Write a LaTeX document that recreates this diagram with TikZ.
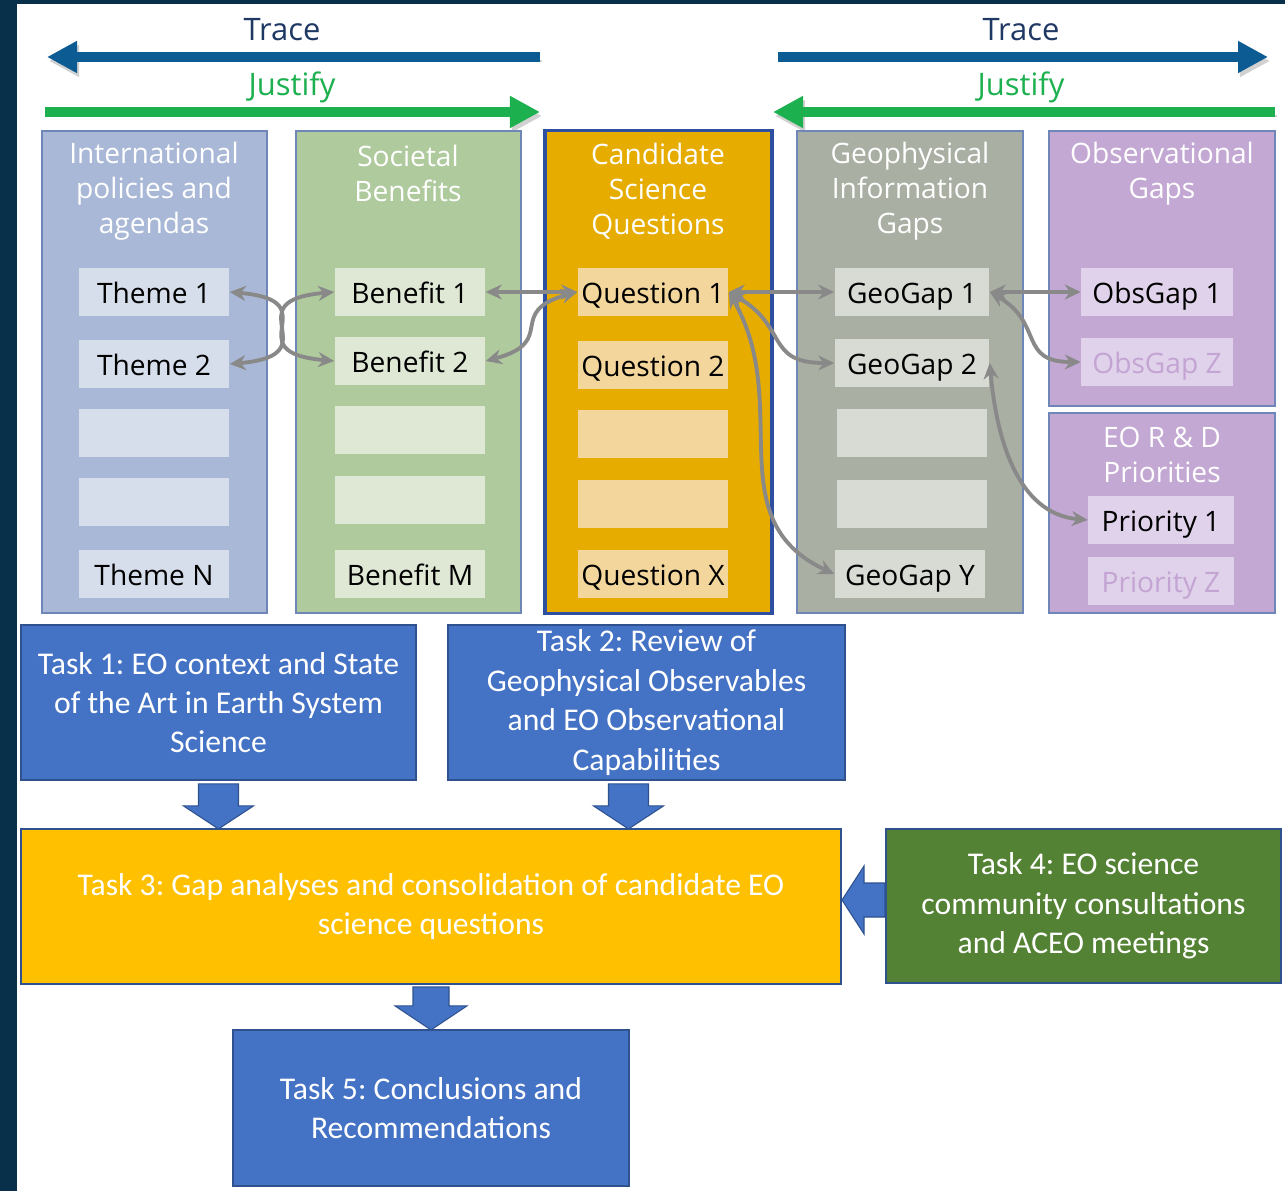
\documentclass[tikz,border=0pt]{standalone}
\usepackage{fontspec}
\setmainfont{Open Sans}
\newfontfamily\taskfont{Carlito}
\usetikzlibrary{arrows.meta, calc}
\frenchspacing

\definecolor{navybg}{HTML}{08304A}
\definecolor{traceblue}{HTML}{0C5B92}
\definecolor{tracetext}{HTML}{1F3864}
\definecolor{justgreen}{HTML}{1CB04F}
\definecolor{colline}{HTML}{6F86B8}
\definecolor{candline}{HTML}{2F4FA0}
\definecolor{intlfill}{HTML}{A9B8D6}
\definecolor{intlitem}{HTML}{D6DEEB}
\definecolor{socfill}{HTML}{AFCA9D}
\definecolor{socitem}{HTML}{DEE8D5}
\definecolor{candfill}{HTML}{E6AC00}
\definecolor{canditem}{HTML}{F3D69B}
\definecolor{geofill}{HTML}{AAAFA4}
\definecolor{geoitem}{HTML}{D7DBD4}
\definecolor{obsfill}{HTML}{C4A8D4}
\definecolor{obsitem}{HTML}{DFD2EA}
\definecolor{obsghost}{HTML}{C3A4D3}
\definecolor{linkgray}{HTML}{898989}
\definecolor{taskblue}{HTML}{4472C4}
\definecolor{taskline}{HTML}{2F528F}
\definecolor{taskyellow}{HTML}{FFC000}
\definecolor{taskgreen}{HTML}{548235}

\newcommand{\colfont}{\fontsize{8}{9.9}\selectfont}

\begin{document}
\begin{tikzpicture}[
  x=0.01cm, y=0.01cm,
  every node/.style={font=\colfont},
  col/.style={
    rectangle, draw=colline, line width=0.5pt, fill=#1,
    minimum width=2.25cm, minimum height=4.82cm, inner sep=0pt},
  coltitle/.style={text=white, align=center},
  item/.style={
    rectangle, fill=#1, text=black,
    minimum width=1.5cm, minimum height=0.47cm, inner sep=0pt,
    text height=1.45ex, text depth=0.25ex},
  link/.style={
    {Stealth[length=1.6mm,width=1.5mm]}-{Stealth[length=1.6mm,width=1.5mm]},
    draw=linkgray, line width=1.1pt},
  tracearr/.style={
    -{Triangle[length=3mm,width=3mm]},
    draw=#1, line width=2.8pt,
    preaction={draw=black!18, transform canvas={shift={(0.02cm,-0.04cm)}}}},
  toplbl/.style={font=\fontsize{8.8}{10}\selectfont},
  task/.style={
    rectangle, draw=taskline, line width=0.5pt, fill=#1,
    text=white, align=center, inner sep=0pt,
    font=\taskfont\fontsize{9}{11.2}\selectfont},
  blockarr/.style={fill=taskblue, draw=taskline, line width=0.3pt},
]

% frame
\fill[navybg] (0,0) rectangle (1285,-1191);
\fill[white] (17,-4) rectangle (1285,-1191);

% trace / justify arrows
\coordinate (traceLa) at (540,-57);
\coordinate (traceLb) at (47,-57);
\coordinate (justLa) at (45,-112);
\coordinate (justLb) at (540,-112);
\coordinate (traceRa) at (778,-57);
\coordinate (traceRb) at (1268,-57);
\coordinate (justRa) at (1275,-112);
\coordinate (justRb) at (773,-112);

\draw[tracearr=traceblue] (traceLa) -- (traceLb);
\draw[tracearr=justgreen] (justLa) -- (justLb);
\draw[tracearr=traceblue] (traceRa) -- (traceRb);
\draw[tracearr=justgreen] (justRa) -- (justRb);

\node[toplbl, text=tracetext] (traceL) at (282,-30) {Trace};
\node[toplbl, text=justgreen] (justL)  at (292,-87) {Justify};
\node[toplbl, text=tracetext] (traceR) at (1021,-30) {Trace};
\node[toplbl, text=justgreen] (justR)  at (1021,-87) {Justify};

% columns
\node[col=intlfill] (intl) at (154.5,-372) {};
\node[col=socfill]  (soc)  at (408.5,-372) {};
\node[col=candfill, draw=candline, line width=0.9pt, minimum width=2.27cm] (cand) at (658.5,-372) {};
\node[col=geofill, minimum width=2.26cm] (geo) at (910,-372) {};
\node[col=obsfill, minimum width=2.26cm, minimum height=2.75cm] (obs) at (1162,-268.5) {};
\node[col=obsfill, minimum width=2.26cm, minimum height=2.0cm] (eord) at (1162,-513) {};

\node[coltitle] (intlT) at (154,-191) {International\\policies and\\agendas};
\node[coltitle] (socT)  at (408,-173.5) {Societal\\Benefits};
\node[coltitle] (candT) at (658,-191) {Candidate\\Science\\Questions};
\node[coltitle] (geoT)  at (910,-191) {Geophysical\\Information\\Gaps};
\node[coltitle] (obsT)  at (1162,-173.5) {Observational\\Gaps};
\node[coltitle] (eordT) at (1162,-455) {EO R \& D\\Priorities};

% items
\node[item=intlitem] (theme1) at (154,-292) {Theme 1};
\node[item=intlitem] (theme2) at (154,-364) {Theme 2};
\node[item=intlitem] (themeA) at (154,-433) {};
\node[item=intlitem] (themeB) at (154,-502) {};
\node[item=intlitem] (themeN) at (154,-574) {Theme N};

\node[item=socitem] (benefit1) at (410,-292) {Benefit 1};
\node[item=socitem] (benefit2) at (410,-361) {Benefit 2};
\node[item=socitem] (benefitA) at (410,-430) {};
\node[item=socitem] (benefitB) at (410,-500) {};
\node[item=socitem] (benefitM) at (410,-574) {Benefit M};

\node[item=canditem] (question1) at (653,-292) {Question 1};
\node[item=canditem] (question2) at (653,-365) {Question 2};
\node[item=canditem] (questionA) at (653,-434) {};
\node[item=canditem] (questionB) at (653,-504) {};
\node[item=canditem] (questionX) at (653,-574) {Question X};

\node[item=geoitem, minimum width=1.54cm] (geogap1) at (912,-292) {GeoGap 1};
\node[item=geoitem, minimum width=1.54cm] (geogap2) at (912,-363) {GeoGap 2};
\node[item=geoitem] (geogapA) at (912,-433) {};
\node[item=geoitem] (geogapB) at (912,-504) {};
\node[item=geoitem] (geogapY) at (910,-574) {GeoGap Y};

\node[item=obsitem, minimum width=1.51cm] (obsgap1) at (1157,-292) {ObsGap 1};
\node[item=obsitem, minimum width=1.51cm, text=obsghost] (obsgapZ) at (1157,-362) {ObsGap Z};
\node[item=obsitem, minimum width=1.45cm] (priority1) at (1161,-520) {Priority 1};
\node[item=obsitem, minimum width=1.45cm, text=obsghost] (priorityZ) at (1161,-581) {Priority Z};

% links
\draw[link] (theme1.east) to[out=-5, in=175, looseness=2.1] (benefit2.west);
\draw[link] (theme2.east) to[out=5, in=185, looseness=2.1] (benefit1.west);
\draw[link] (benefit1.east) -- (question1.west);
\draw[link] (benefit2.east) to[out=15, in=195, looseness=1.7] (question1.west);
\draw[link] (question1.east) -- (geogap1.west);
\draw[link] (question1.east) to[out=-30, in=180, looseness=1.4] (geogap2.west);
\draw[link] (question1.east) to[out=-60, in=155, looseness=1.1] (geogapY.west);
\draw[link] (geogap1.east) -- (obsgap1.west);
\draw[link] (geogap1.east) to[out=-30, in=180, looseness=1.4] (obsgapZ.west);
\draw[link] (geogap2.east) to[out=-85, in=175, looseness=1.0] (priority1.west);

% tasks
\node[task=taskblue, minimum width=3.95cm, minimum height=1.55cm] (task1) at (218.5,-702.5)
  {Task 1: EO context and State\\of the Art in Earth System\\Science};
\node[task=taskblue, minimum width=3.97cm, minimum height=1.55cm] (task2) at (646.5,-702.5)
  {Task 2: Review of\\Geophysical Observables\\and EO Observational\\Capabilities};
\node[task=taskyellow, minimum width=8.2cm, minimum height=1.55cm] (task3) at (431,-906.5)
  {Task 3: Gap analyses and consolidation of candidate EO\\science questions};
\node[task=taskgreen, minimum width=3.95cm, minimum height=1.54cm] (task4) at (1083.5,-906)
  {Task 4: EO science\\community consultations\\and ACEO meetings};
\node[task=taskblue, minimum width=3.96cm, minimum height=1.56cm] (task5) at (431,-1108)
  {Task 5: Conclusions and\\Recommendations};

% block arrows
\draw[blockarr] ($(task1.south)+(-20,-3)$) -- ++(0,-22) -- ++(-15,0) -- ++(35,-23)
  -- ++(35,23) -- ++(-15,0) -- ++(0,22) -- cycle;
\draw[blockarr] ($(task2.south)+(-38,-3)$) -- ++(0,-22) -- ++(-15,0) -- ++(35,-23)
  -- ++(35,23) -- ++(-15,0) -- ++(0,22) -- cycle;
\draw[blockarr] ($(task3.south)+(-18,-2)$) -- ++(0,-19) -- ++(-18,0) -- ++(36,-24)
  -- ++(36,24) -- ++(-18,0) -- ++(0,19) -- cycle;
\draw[blockarr] ($(task4.west)+(0,23)$) -- ++(-21,0) -- ++(0,17) -- ++(-22,-34)
  -- ++(22,-34) -- ++(0,17) -- ++(21,0) -- cycle;

\end{tikzpicture}
\end{document}
